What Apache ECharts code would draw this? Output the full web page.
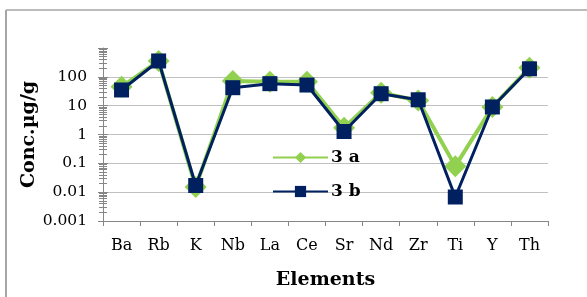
<!DOCTYPE html>
<html>
<head>
<meta charset="utf-8">
<script src="https://cdn.jsdelivr.net/npm/echarts@6/dist/echarts.min.js"></script>
<style>
  html, body { margin: 0; padding: 0; background: #fff; }
  #chart { width: 587px; height: 297px; }
</style>
</head>
<body>
<div id="chart"></div>
<script>
  var elements = ['Ba', 'Rb', 'K', 'Nb', 'La', 'Ce', 'Sr', 'Nd', 'Zr', 'Ti', 'Y', 'Th'];
  var sample3a = [45, 355, 0.015, 72, 68, 68, 1.7, 28, 15, 0.08, 9, 205];
  var sample3b = [35, 355, 0.017, 42, 58, 52, 1.27, 26, 16, 0.0068, 9, 190];
  var yTickLabels = ['0.001', '0.01', '0.1', '1', '10', '100'];

  var serif = 'DejaVu Serif';
  var chart = echarts.init(document.getElementById('chart'));

  function yLabel(v) {
    var i = Math.round(Math.log10(v)) + 3;
    return yTickLabels[i] || '';
  }

  var yBase = {
    type: 'log',
    logBase: 10,
    min: 0.001,
    max: 1000,
    position: 'left'
  };

  chart.setOption({
    animation: false,
    grid: { left: 103, right: 39, top: 48, bottom: 76 },
    graphic: [
      { type: 'line', shape: { x1: 6, y1: 10, x2: 587, y2: 10 }, style: { stroke: '#a6a6a6', lineWidth: 1.5 } },
      { type: 'line', shape: { x1: 6, y1: 10, x2: 6, y2: 297 }, style: { stroke: '#a6a6a6', lineWidth: 2 } }
    ],
    legend: {
      orient: 'vertical',
      left: 267,
      top: 144,
      itemWidth: 55,
      itemHeight: 14,
      itemGap: 17,
      textStyle: { fontFamily: serif, fontWeight: 'bold', fontSize: 17, color: '#000', padding: [0, 0, 0, -2] },
      data: ['3 a', '3 b']
    },
    xAxis: {
      type: 'category',
      data: elements,
      name: 'Elements',
      nameLocation: 'middle',
      nameGap: 50,
      nameTextStyle: { fontFamily: serif, fontWeight: 'bold', fontSize: 19, color: '#000' },
      axisLine: { lineStyle: { color: '#868686', width: 1 } },
      axisTick: { show: true, length: 5, lineStyle: { color: '#868686' } },
      axisLabel: { fontFamily: serif, fontSize: 16, color: '#000', margin: 17 }
    },
    yAxis: [
      Object.assign({}, yBase, {
        name: 'Conc.µg/g',
        nameLocation: 'middle',
        nameGap: 64,
        nameMoveOverlap: false,
        nameTextStyle: { fontFamily: serif, fontWeight: 'bold', fontSize: 19, color: '#000' },
        axisLine: { show: true, lineStyle: { color: '#868686', width: 1 } },
        axisTick: { show: true, length: 5, lineStyle: { color: '#868686' } },
        minorTick: { show: true, splitNumber: 9, length: 4, lineStyle: { color: '#868686' } },
        axisLabel: { fontFamily: serif, fontSize: 15.5, color: '#000', margin: 16, formatter: yLabel },
        splitLine: { show: true, showMaxLine: false, lineStyle: { color: '#c0c0c0', width: 1 } }
      }),
      Object.assign({}, yBase, {
        axisLine: { show: false },
        axisTick: { show: true, inside: true, length: 5, lineStyle: { color: '#868686' } },
        minorTick: { show: true, splitNumber: 9, length: 4, lineStyle: { color: '#868686' } },
        axisLabel: { show: false },
        splitLine: { show: false }
      })
    ],
    series: [
      {
        name: '3 a',
        type: 'line',
        data: sample3a,
        symbol: 'diamond',
        symbolSize: 22,
        lineStyle: { color: '#92d050', width: 4 },
        itemStyle: { color: '#92d050' },
        z: 2
      },
      {
        name: '3 b',
        type: 'line',
        data: sample3b,
        symbol: 'rect',
        symbolSize: 15,
        lineStyle: { color: '#002060', width: 3 },
        itemStyle: { color: '#002060' },
        z: 3
      }
    ]
  });
</script>
</body>
</html>
